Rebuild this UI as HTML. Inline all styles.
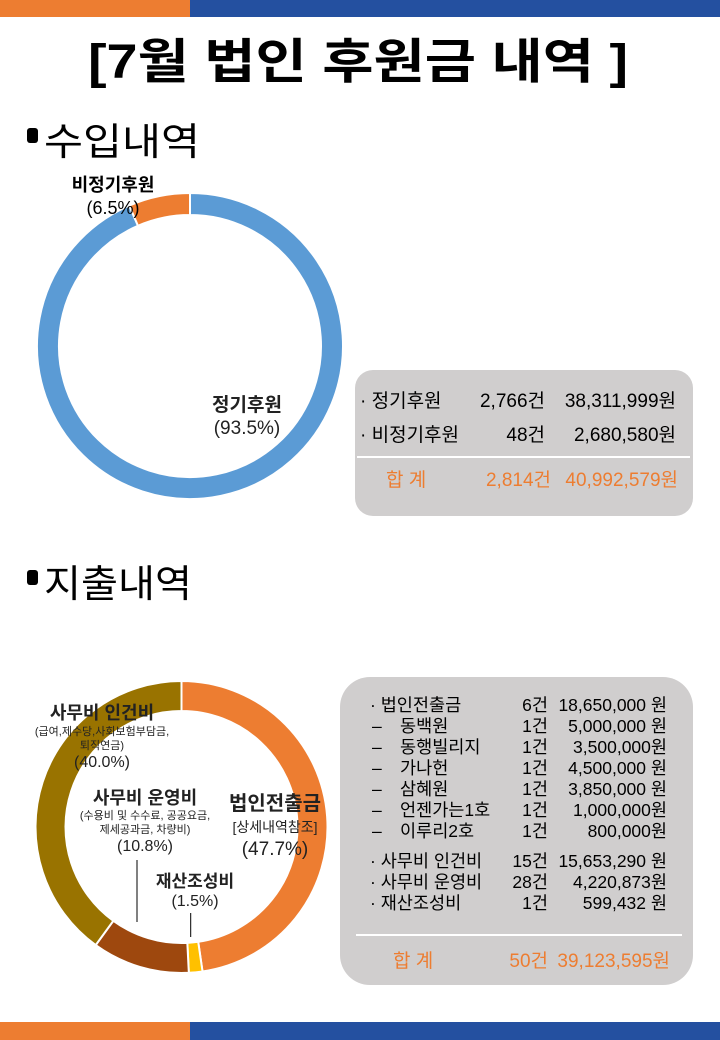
<!DOCTYPE html>
<html><head><meta charset="utf-8"><style>
html,body{margin:0;padding:0;background:#fff;}
svg{display:block;font-family:"Liberation Sans","Noto Sans CJK KR",sans-serif;}
</style></head><body>
<svg width="720" height="1040" viewBox="0 0 720 1040" xmlns="http://www.w3.org/2000/svg">
<rect x="0" y="0" width="190" height="17" fill="#ED7D31"/>
<rect x="190" y="0" width="530" height="17" fill="#2450A0"/>
<rect x="0" y="1022" width="190" height="18" fill="#ED7D31"/>
<rect x="190" y="1022" width="530" height="18" fill="#2450A0"/>

<text x="88" y="78" font-size="48" font-weight="bold" textLength="540" lengthAdjust="spacingAndGlyphs" fill="#000">[7월 법인 후원금 내역 ]</text>

<rect x="27" y="128" width="11" height="15" rx="3" fill="#000"/>
<text x="44" y="155" font-size="38" fill="#000" textLength="156" lengthAdjust="spacingAndGlyphs">수입내역</text>
<rect x="27" y="570" width="11" height="15" rx="3" fill="#000"/>
<text x="44" y="597" font-size="38" fill="#000" textLength="148" lengthAdjust="spacingAndGlyphs">지출내역</text>

<!-- top donut -->
<path d="M190,193 A153,153 0 1 1 129.24,205.58 L137.98,225.77 A131,131 0 1 0 190,215 Z" fill="#5B9BD5" stroke="#fff" stroke-width="2"/>
<path d="M129.24,205.58 A153,153 0 0 1 190,193 L190,215 A131,131 0 0 0 137.98,225.77 Z" fill="#ED7D31" stroke="#fff" stroke-width="2"/>
<text x="113" y="191" font-size="18" font-weight="bold" text-anchor="middle">비정기후원</text>
<text x="113" y="214" font-size="18" text-anchor="middle">(6.5%)</text>
<text x="247" y="411" font-size="19" font-weight="bold" text-anchor="middle" fill="#222">정기후원</text>
<text x="247" y="434" font-size="19" text-anchor="middle" fill="#222">(93.5%)</text>

<!-- top box -->
<rect x="355" y="370" width="338" height="146" rx="18" fill="#D0CECE"/>
<g font-size="19" fill="#000">
<text x="360" y="407">· 정기후원</text>
<text x="545" y="407" text-anchor="end">2,766건</text>
<text x="676" y="407" text-anchor="end">38,311,999원</text>
<text x="360" y="441">· 비정기후원</text>
<text x="545" y="441" text-anchor="end">48건</text>
<text x="676" y="441" text-anchor="end">2,680,580원</text>
</g>
<line x1="357" y1="457" x2="690" y2="457" stroke="#fff" stroke-width="2"/>
<g font-size="19" fill="#ED7D31">
<text x="386" y="486">합  계</text>
<text x="551" y="486" text-anchor="end">2,814건</text>
<text x="678" y="486" text-anchor="end">40,992,579원</text>
</g>

<!-- bottom donut -->
<g stroke="#fff" stroke-width="2">
<path d="M181.5,681 A146,146 0 0 1 202.52,971.48 L198.2,941.79 A116,116 0 0 0 181.5,711 Z" fill="#ED7D31"/>
<path d="M202.52,971.48 A146,146 0 0 1 188.83,972.81 L187.33,942.85 A116,116 0 0 0 198.2,941.79 Z" fill="#FFC000"/>
<path d="M188.83,972.81 A146,146 0 0 1 95.68,945.11 L113.32,920.84 A116,116 0 0 0 187.33,942.85 Z" fill="#9E480E"/>
<path d="M95.68,945.11 A146,146 0 0 1 181.5,681 L181.5,711 A116,116 0 0 0 113.32,920.84 Z" fill="#997300"/>
</g>
<line x1="137" y1="860" x2="137" y2="922" stroke="#000" stroke-width="1"/>
<line x1="190.7" y1="913" x2="190.7" y2="937" stroke="#000" stroke-width="1"/>
<g fill="#222" text-anchor="middle">
<text x="102" y="719" font-size="18" font-weight="bold">사무비 인건비</text>
<text x="102" y="735" font-size="11">(급여,제수당,사회보험부담금,</text>
<text x="102" y="749" font-size="11">퇴직연금)</text>
<text x="102" y="767" font-size="16">(40.0%)</text>
<text x="145" y="804" font-size="18" font-weight="bold">사무비 운영비</text>
<text x="145" y="819" font-size="11">(수용비 및 수수료, 공공요금,</text>
<text x="145" y="833" font-size="11">제세공과금, 차량비)</text>
<text x="145" y="851" font-size="16">(10.8%)</text>
<text x="275" y="810" font-size="20" font-weight="bold">법인전출금</text>
<text x="275" y="832" font-size="14">[상세내역참조]</text>
<text x="275" y="855" font-size="19">(47.7%)</text>
<text x="195" y="887" font-size="17" font-weight="bold">재산조성비</text>
<text x="195" y="906" font-size="16">(1.5%)</text>
</g>

<!-- bottom box -->
<rect x="340" y="677" width="353" height="308" rx="30" fill="#D0CECE"/>
<g font-size="17.5" fill="#000">
<text x="370" y="711">· 법인전출금</text><text x="548" y="711" text-anchor="end">6건</text><text x="667" y="711" text-anchor="end">18,650,000 원</text>
<text x="372" y="732">–</text><text x="400" y="732">동백원</text><text x="548" y="732" text-anchor="end">1건</text><text x="667" y="732" text-anchor="end">5,000,000 원</text>
<text x="372" y="753">–</text><text x="400" y="753">동행빌리지</text><text x="548" y="753" text-anchor="end">1건</text><text x="667" y="753" text-anchor="end">3,500,000원</text>
<text x="372" y="774">–</text><text x="400" y="774">가나헌</text><text x="548" y="774" text-anchor="end">1건</text><text x="667" y="774" text-anchor="end">4,500,000 원</text>
<text x="372" y="795">–</text><text x="400" y="795">삼혜원</text><text x="548" y="795" text-anchor="end">1건</text><text x="667" y="795" text-anchor="end">3,850,000 원</text>
<text x="372" y="816">–</text><text x="400" y="816">언젠가는1호</text><text x="548" y="816" text-anchor="end">1건</text><text x="667" y="816" text-anchor="end">1,000,000원</text>
<text x="372" y="837">–</text><text x="400" y="837">이루리2호</text><text x="548" y="837" text-anchor="end">1건</text><text x="667" y="837" text-anchor="end">800,000원</text>
<text x="370" y="867">· 사무비 인건비</text><text x="548" y="867" text-anchor="end">15건</text><text x="667" y="867" text-anchor="end">15,653,290 원</text>
<text x="370" y="888">· 사무비 운영비</text><text x="548" y="888" text-anchor="end">28건</text><text x="667" y="888" text-anchor="end">4,220,873원</text>
<text x="370" y="909">· 재산조성비</text><text x="548" y="909" text-anchor="end">1건</text><text x="667" y="909" text-anchor="end">599,432 원</text>
</g>
<line x1="356" y1="935" x2="682" y2="935" stroke="#fff" stroke-width="2"/>
<g font-size="19" fill="#ED7D31">
<text x="393" y="967">합  계</text>
<text x="548" y="967" text-anchor="end">50건</text>
<text x="670" y="967" text-anchor="end">39,123,595원</text>
</g>
</svg>
</body></html>
